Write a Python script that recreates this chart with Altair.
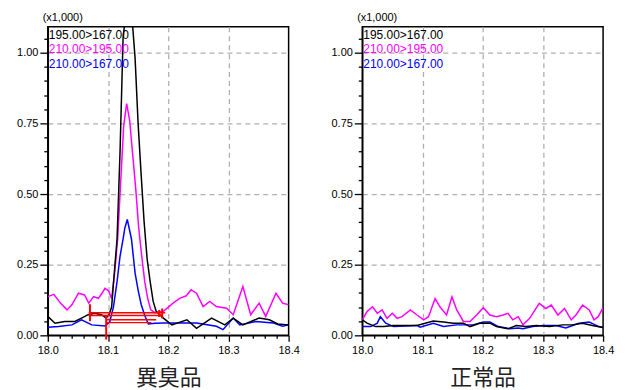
import altair as alt
import pandas as pd

PANEL_NAMES = ["異臭品", "正常品"]
SERIES = ["195.00>167.00", "210.00>195.00", "210.00>167.00"]
COLORS = ["#000000", "#ff00ff", "#0000ff"]
DRAW_ORDER = [1, 2, 0]  # magenta, blue, black on top
SCALE_NOTE = "(x1,000)"

X_TICKS = [18.0, 18.02, 18.04, 18.06, 18.08, 18.1, 18.12, 18.14, 18.16, 18.18,
           18.2, 18.22, 18.24, 18.26, 18.28, 18.3, 18.32, 18.34, 18.36, 18.38, 18.4]
Y_TICKS = [0.0, 0.05, 0.1, 0.15, 0.2, 0.25, 0.3, 0.35, 0.4, 0.45, 0.5, 0.55,
           0.6, 0.65, 0.7, 0.75, 0.8, 0.85, 0.9, 0.95, 1.0, 1.05]

# ---- 異臭品 (left) ----
BLACK_L = [(18.000, 0.067), (18.012, 0.043), (18.028, 0.049), (18.045, 0.049), (18.056, 0.061),
           (18.067, 0.073), (18.078, 0.078), (18.089, 0.073), (18.097, 0.061), (18.102, 0.075),
           (18.106, 0.10), (18.110, 0.21), (18.115, 0.34), (18.120, 0.65), (18.125, 1.05),
           (18.130, 1.15), (18.135, 1.16), (18.140, 1.12), (18.145, 0.98), (18.150, 0.75),
           (18.155, 0.57), (18.160, 0.40), (18.165, 0.27), (18.170, 0.19), (18.175, 0.12),
           (18.180, 0.085), (18.192, 0.061), (18.206, 0.037), (18.231, 0.055), (18.247, 0.025),
           (18.272, 0.061), (18.294, 0.037), (18.308, 0.061), (18.324, 0.037), (18.351, 0.061),
           (18.368, 0.055), (18.382, 0.040), (18.400, 0.037)]
MAGENTA_L = [(18.000, 0.137), (18.010, 0.145), (18.021, 0.114), (18.032, 0.090), (18.040, 0.108),
             (18.051, 0.149), (18.061, 0.143), (18.068, 0.114), (18.076, 0.137), (18.084, 0.131),
             (18.090, 0.149), (18.095, 0.166), (18.101, 0.157), (18.106, 0.130), (18.111, 0.220),
             (18.116, 0.340), (18.121, 0.540), (18.126, 0.740), (18.131, 0.820), (18.136, 0.760),
             (18.141, 0.640), (18.146, 0.520), (18.151, 0.380), (18.156, 0.280), (18.161, 0.190),
             (18.166, 0.130), (18.171, 0.090), (18.178, 0.080), (18.192, 0.085), (18.208, 0.114),
             (18.219, 0.131), (18.230, 0.140), (18.238, 0.161), (18.247, 0.149), (18.258, 0.102),
             (18.269, 0.120), (18.280, 0.102), (18.297, 0.096), (18.308, 0.073), (18.324, 0.173),
             (18.337, 0.073), (18.351, 0.114), (18.362, 0.067), (18.379, 0.149), (18.390, 0.114),
             (18.400, 0.108)]
BLUE_L = [(18.000, 0.029), (18.018, 0.031), (18.040, 0.037), (18.056, 0.055), (18.073, 0.037),
          (18.095, 0.033), (18.103, 0.049), (18.109, 0.10), (18.115, 0.19), (18.120, 0.28),
          (18.125, 0.34), (18.128, 0.38), (18.132, 0.41), (18.139, 0.34), (18.145, 0.22),
          (18.150, 0.16), (18.155, 0.11), (18.161, 0.07), (18.167, 0.04), (18.178, 0.043),
          (18.192, 0.044), (18.225, 0.044), (18.247, 0.044), (18.280, 0.032), (18.291, 0.020),
          (18.308, 0.061), (18.319, 0.037), (18.346, 0.049), (18.374, 0.044), (18.390, 0.032),
          (18.400, 0.037)]

# peak integration marks (left only)
RED_H_X1 = [18.068, 18.068, 18.097, 18.097]
RED_H_X2 = [18.195, 18.190, 18.180, 18.172]
RED_H_Y = [0.080, 0.070, 0.055, 0.045]
RED_V_X = [18.070, 18.097, 18.190, 18.185]
RED_V_Y1 = [0.050, -0.015, 0.060, 0.065]
RED_V_Y2 = [0.110, 0.070, 0.095, 0.090]

# ---- 正常品 (right) ----
BLACK_R = [(18.000, 0.055), (18.008, 0.043), (18.022, 0.031), (18.036, 0.031), (18.052, 0.035),
           (18.091, 0.035), (18.118, 0.051), (18.135, 0.047), (18.151, 0.043), (18.168, 0.043),
           (18.179, 0.031), (18.195, 0.043), (18.212, 0.043), (18.223, 0.031), (18.242, 0.023),
           (18.256, 0.035), (18.272, 0.031), (18.289, 0.035), (18.311, 0.031), (18.333, 0.037),
           (18.349, 0.037), (18.366, 0.043), (18.382, 0.035), (18.400, 0.028)]
MAGENTA_R = [(18.000, 0.055), (18.008, 0.084), (18.017, 0.101), (18.025, 0.078), (18.033, 0.090),
             (18.041, 0.060), (18.050, 0.078), (18.058, 0.060), (18.066, 0.066), (18.080, 0.090),
             (18.091, 0.072), (18.102, 0.055), (18.110, 0.066), (18.121, 0.130), (18.129, 0.101),
             (18.140, 0.072), (18.149, 0.136), (18.157, 0.090), (18.168, 0.049), (18.179, 0.049),
             (18.190, 0.072), (18.201, 0.098), (18.212, 0.072), (18.223, 0.066), (18.234, 0.072),
             (18.242, 0.078), (18.250, 0.055), (18.259, 0.066), (18.267, 0.037), (18.278, 0.060),
             (18.294, 0.113), (18.305, 0.095), (18.314, 0.107), (18.325, 0.072), (18.336, 0.095),
             (18.347, 0.055), (18.355, 0.072), (18.366, 0.107), (18.377, 0.090), (18.385, 0.055),
             (18.392, 0.066), (18.400, 0.098)]
BLUE_R = [(18.000, 0.031), (18.014, 0.031), (18.025, 0.043), (18.030, 0.066), (18.039, 0.043),
          (18.052, 0.031), (18.091, 0.035), (18.096, 0.029), (18.118, 0.043), (18.135, 0.031),
          (18.157, 0.037), (18.184, 0.037), (18.201, 0.047), (18.212, 0.047), (18.226, 0.031),
          (18.245, 0.023), (18.259, 0.026), (18.267, 0.023), (18.283, 0.031), (18.300, 0.035),
          (18.322, 0.035), (18.338, 0.026), (18.360, 0.043), (18.377, 0.047), (18.393, 0.031),
          (18.400, 0.028)]

FONT = "Liberation Sans"
W, H = 242, 310
YMAX = 1.0915

x_major = "round(datum.value*50) % 5 == 0"
y_major = "round(datum.value*20) % 5 == 0"


def make_panel(name, series_data, red):
    x_axis = alt.Axis(
        values=X_TICKS,
        labelExpr=f"{x_major} ? format(datum.value, '.1f') : ''",
        tickSize={"condition": {"test": x_major, "value": 6}, "value": 3},
        gridOpacity={"condition": {"test": f"{x_major} && datum.value > 18.05 && datum.value < 18.35", "value": 1}, "value": 0},
        grid=True, title=name, labelFlush=False, labelOverlap=False,
        titleFontSize=22, titleFont="Noto Sans CJK JP", titleFontWeight="normal",
        titleColor="#222222", titlePadding=12, labelPadding=3,
    )
    y_axis = alt.Axis(
        values=Y_TICKS,
        labelExpr=f"{y_major} ? format(datum.value, '.2f') : ''",
        tickSize={"condition": {"test": y_major, "value": 8}, "value": 4},
        gridOpacity={"condition": {"test": f"{y_major} && datum.value > 0.01", "value": 1}, "value": 0},
        grid=True, title=None, labelFlush=False, labelOverlap=False, labelPadding=2,
    )
    xs = alt.Scale(domain=[18.0, 18.4], nice=False, zero=False)
    ys = alt.Scale(domain=[0, YMAX], nice=False, zero=False)

    def X(field):
        return alt.X(field, type="quantitative", scale=xs, axis=x_axis)

    def Y(field):
        return alt.Y(field, type="quantitative", scale=ys, axis=y_axis)

    layers = []
    for idx in DRAW_ORDER:
        df = pd.DataFrame(series_data[idx], columns=["t", "v"])
        layers.append(
            alt.Chart(df).mark_line(color=COLORS[idx], strokeWidth=1.5, clip=True).encode(
                x=X("t"), y=Y("v"), order="t:Q",
            )
        )
    if red:
        hdf = pd.DataFrame({"t": RED_H_X1, "x2": RED_H_X2, "v": RED_H_Y})
        vdf = pd.DataFrame({"t": RED_V_X, "v": RED_V_Y1, "y2": RED_V_Y2})
        layers.append(alt.Chart(hdf).mark_rule(color="#ff0000", strokeWidth=1.4).encode(
            x=X("t"), x2="x2:Q", y=Y("v")))
        layers.append(alt.Chart(vdf).mark_rule(color="#ff0000", strokeWidth=2).encode(
            x=X("t"), y=Y("v"), y2="y2:Q"))
    # legend text inside plot
    for i, (s, c) in enumerate(zip(SERIES, COLORS)):
        layers.append(alt.Chart(pd.DataFrame({"label": [s]})).mark_text(
            align="left", baseline="middle", font=FONT, fontSize=12, color=c
        ).encode(x=alt.value(1), y=alt.value(8 + 14.5 * i), text="label:N"))
    layers.append(alt.Chart(pd.DataFrame({"label": [SCALE_NOTE]})).mark_text(
        align="center", baseline="middle", font=FONT, fontSize=11, color="#000000"
    ).encode(x=alt.value(15), y=alt.value(-9), text="label:N"))
    return alt.layer(*layers).properties(width=W, height=H)


left = make_panel(PANEL_NAMES[0], [BLACK_L, MAGENTA_L, BLUE_L], True)
right = make_panel(PANEL_NAMES[1], [BLACK_R, MAGENTA_R, BLUE_R], False)

chart = alt.hconcat(left, right, spacing=74, bounds="flush").properties(
    padding={"left": 7, "top": 2, "right": 5, "bottom": 0},
    background="white",
).configure_view(stroke="#000000", strokeWidth=1.5).configure_axis(
    labelFont=FONT, labelFontSize=11, labelColor="#000000",
    domainColor="#000000", domainWidth=1.5, tickColor="#000000", tickWidth=1.3,
    gridColor="#b0b0b0", gridDash=[5, 4], gridWidth=1.3,
)

chart.save("out.html", embed_options={"renderer": "svg", "actions": False})
